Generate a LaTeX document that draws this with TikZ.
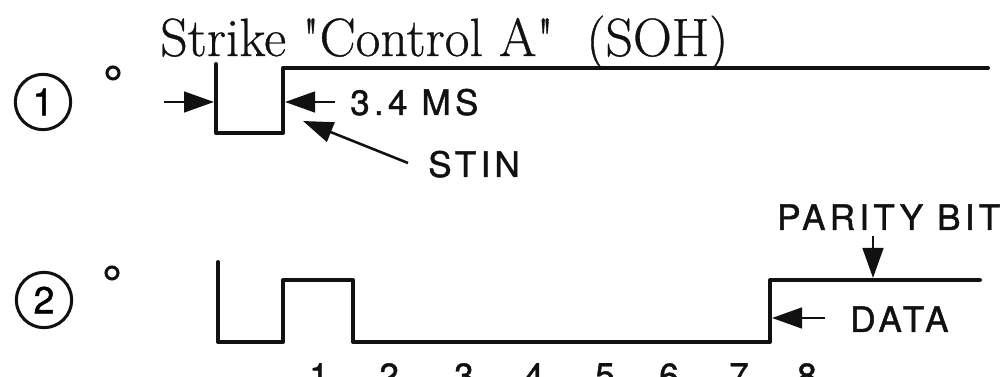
\documentclass[tikz,border=0pt]{standalone}
\usepackage{fontspec}
\usetikzlibrary{arrows.meta,positioning,calc}
\newfontfamily\labelfont[LetterSpace=12,FakeBold=1.2]{TeX Gyre Heros}
\newfontfamily\titlefont[FakeBold=0.6]{Latin Modern Roman}
\definecolor{ink}{HTML}{111111}
\tikzset{
  wave/.style={draw=ink, line width=3.4pt, line join=round, line cap=round},
  marker/.style={draw=ink, circle, line width=2.6pt, minimum size=1.66cm, inner sep=0pt, font=\labelfont\fontsize{32}{32}\selectfont},
  dot/.style={draw=ink, circle, line width=2.6pt, minimum size=0.36cm, inner sep=0pt},
  tag/.style={text=ink, font=\labelfont\fontsize{30}{30}\selectfont, inner sep=0pt, anchor=base west},
  digit/.style={text=ink, font=\labelfont\fontsize{30}{30}\selectfont, inner sep=0pt, anchor=north},
  pointer/.style={-{Triangle[length=9mm, width=6.2mm]}, draw=ink, line width=2.2pt}
}

\begin{document}
\begin{tikzpicture}[x=0.03cm, y=-0.03cm]
  \useasboundingbox (0,0) rectangle (1003,377);
  \clip (0,0) rectangle (1003,377);

  \node[text=ink, font=\titlefont\fontsize{46}{46}\selectfont, inner sep=0pt, anchor=base west] (title) at (160,56) {Strike "Control A"\ \ (SOH)};

  \node[marker] (one) at (43,102) {1};
  \node[dot] (dotone) at (113,73) {};
  \node[marker] (two) at (44,300) {2};
  \node[dot] (dottwo) at (112,273) {};

  % first trace
  \coordinate (a0) at (216,64);
  \coordinate (a1) at (216,133);
  \coordinate (a2) at (283,133);
  \coordinate (a3) at (283,68);
  \coordinate (a4) at (988,68);
  \draw[wave] (a0) -- (a1) -- (a2) -- (a3) -- (a4);

  \node[tag] (ms) at (350,115) {3.4 MS};
  \node[tag] (stin) at (428,177) {STIN};
  \coordinate (msleft) at (164,102);
  \coordinate (msleftend) at (214,102);
  \coordinate (msright) at (335,102);
  \coordinate (msrightend) at (285,102);
  \coordinate (stintail) at (408,163);
  \coordinate (stintip) at (303,121);
  \draw[pointer] (msleft) -- (msleftend);
  \draw[pointer] (msright) -- (msrightend);
  \draw[pointer] (stintail) -- (stintip);

  % second trace
  \coordinate (b0) at (218,262);
  \coordinate (b1) at (218,342);
  \coordinate (b2) at (283,342);
  \coordinate (b3) at (283,280);
  \coordinate (b4) at (353,280);
  \coordinate (b5) at (353,342);
  \coordinate (b6) at (770,342);
  \coordinate (b7) at (770,280);
  \coordinate (b8) at (980,280);
  \draw[wave] (b0) -- (b1) -- (b2) -- (b3) -- (b4) -- (b5) -- (b6) -- (b7) -- (b8);

  \node[tag] (parity) at (777,230) {PARITY BIT};
  \node[tag] (data) at (850,332) {DATA};
  \coordinate (paritytail) at (873,236);
  \coordinate (paritytip) at (873,278);
  \coordinate (datatail) at (825,318);
  \coordinate (datatip) at (772,318);
  \draw[pointer] (paritytail) -- (paritytip);
  \draw[pointer] (datatail) -- (datatip);

  \foreach \n/\x in {1/319,2/389,3/464,4/534,5/605,6/669,7/739,8/807}
    \node[digit] (bit\n) at (\x,363) {\n};
\end{tikzpicture}
\end{document}
